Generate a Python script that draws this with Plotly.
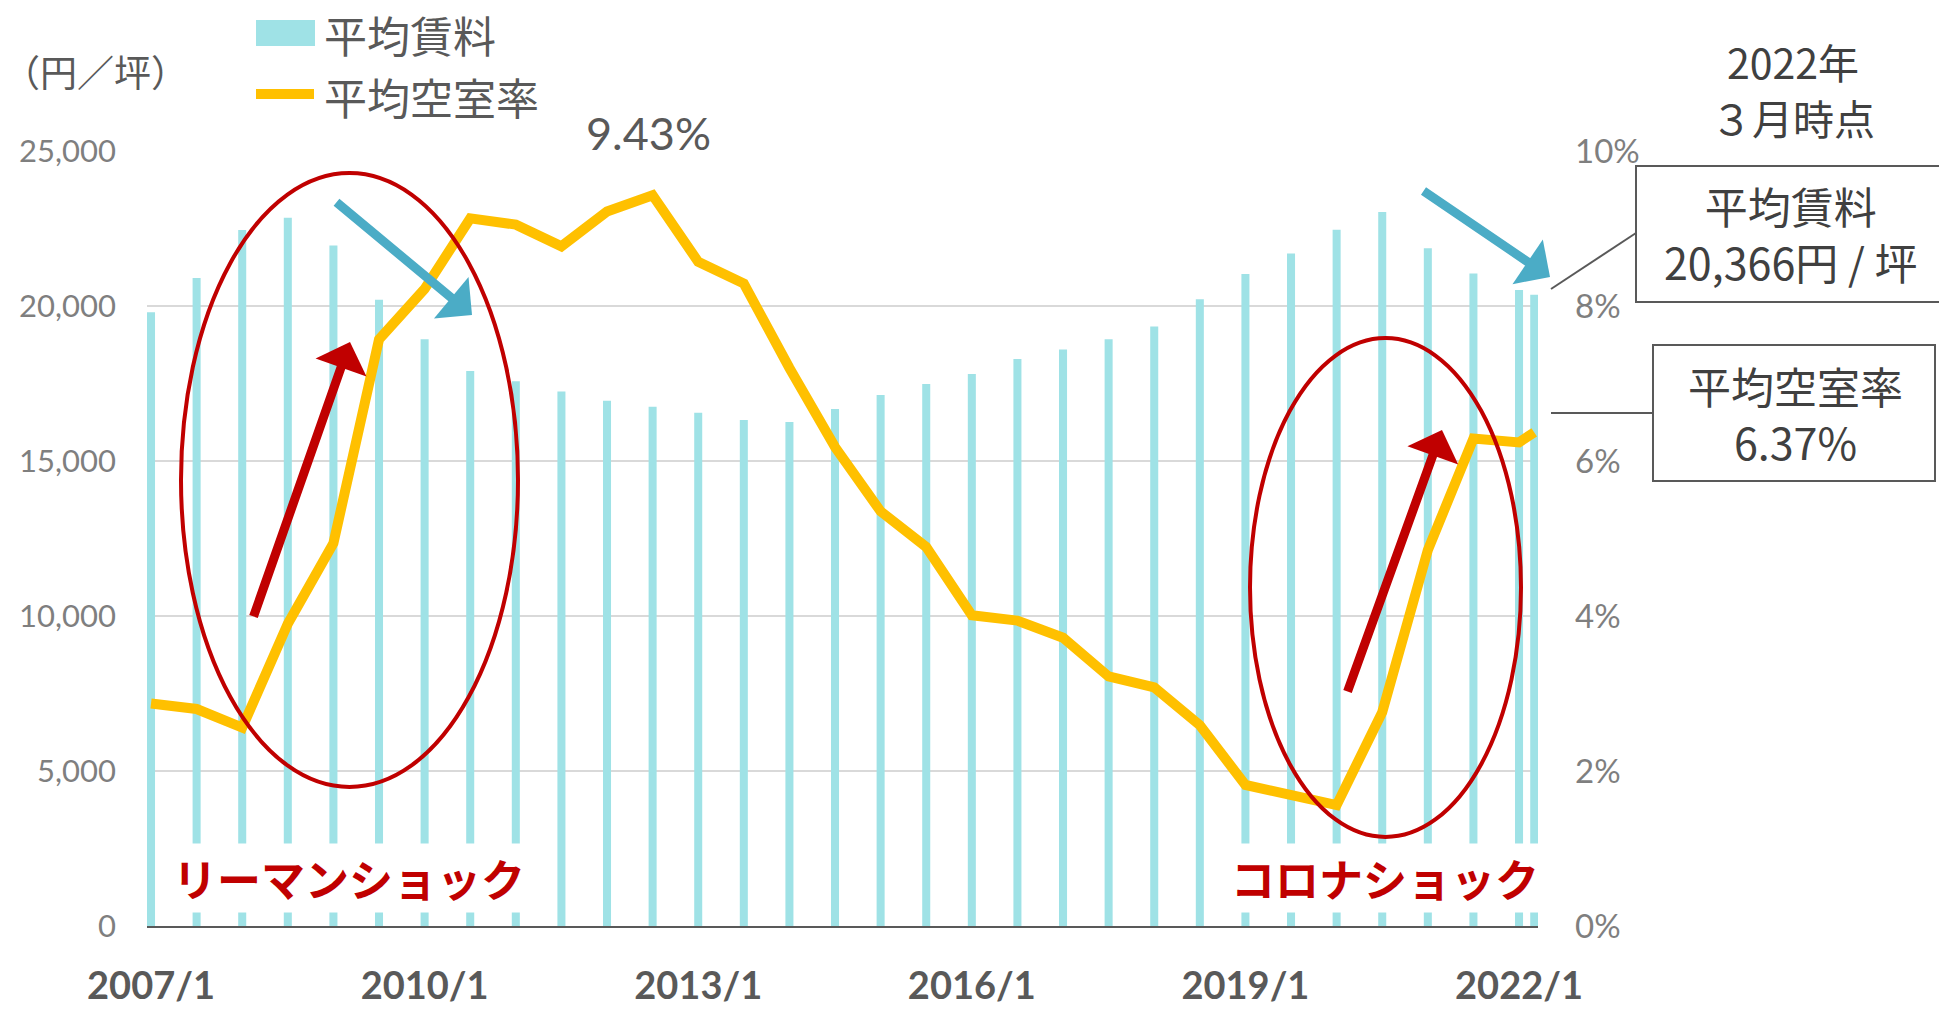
import plotly.graph_objects as go

# ---------------- data ----------------
periods = ["2007/1", "2007/7", "2008/1", "2008/7", "2009/1", "2009/7", "2010/1", "2010/7",
           "2011/1", "2011/7", "2012/1", "2012/7", "2013/1", "2013/7", "2014/1", "2014/7",
           "2015/1", "2015/7", "2016/1", "2016/7", "2017/1", "2017/7", "2018/1", "2018/7",
           "2019/1", "2019/7", "2020/1", "2020/7", "2021/1", "2021/7", "2022/1", "2022/3"]
rent = [19800, 20900, 22450, 22850, 21950, 20200, 18930, 17900,
        17570, 17240, 16940, 16750, 16560, 16320, 16260, 16680,
        17130, 17480, 17810, 18290, 18600, 18930, 19340, 20220,
        21030, 21690, 22460, 23030, 21860, 21050, 20520, 20366]
vacancy = [2.87, 2.80, 2.56, 3.90, 4.94, 7.57, 8.22, 9.13,
           9.05, 8.77, 9.22, 9.43, 8.57, 8.29, 7.20, 6.18,
           5.35, 4.89, 4.01, 3.94, 3.72, 3.22, 3.08, 2.59,
           1.82, 1.69, 1.56, 2.76, 4.85, 6.29, 6.24, 6.37]
tick_years = [2007, 2010, 2013, 2016, 2019, 2022]
tick_labels = ["2007/1", "2010/1", "2013/1", "2016/1", "2019/1", "2022/1"]
series_names = ["平均賃料", "平均空室率"]

# ---------------- layout constants ----------------
W, H = 1939, 1010
L, R, T, B = 147, 1538, 151, 926
X0, X1 = 2006.956, 2022.208

CJK = "Noto Sans CJK JP"
LAT = "Lato"
BAR_C = "#9FE2E6"
LINE_C = "#FFC000"
RED = "#C00000"
BLUE = "#4BACC6"


def px(x):
    return (x - L) / (R - L)


def py(y):
    return (B - y) / (B - T)


xnum = [int(p.split("/")[0]) + (int(p.split("/")[1]) - 1) / 12 for p in periods]

fig = go.Figure()
fig.add_trace(go.Bar(x=xnum, y=rent, name=series_names[0], width=0.088,
                     marker=dict(color=BAR_C, line=dict(width=0)), showlegend=False))
fig.add_trace(go.Scatter(x=xnum, y=vacancy, name=series_names[1], mode="lines",
                         line=dict(color=LINE_C, width=10), yaxis="y2", showlegend=False))

shapes = []
annotations = []

# legend (custom)
shapes.append(dict(type="rect", xref="paper", yref="paper", x0=px(256), x1=px(315),
                   y0=py(46), y1=py(20), fillcolor=BAR_C, line=dict(width=0)))
shapes.append(dict(type="line", xref="paper", yref="paper", x0=px(256), x1=px(314),
                   y0=py(94), y1=py(94), line=dict(color=LINE_C, width=10)))
annotations.append(dict(xref="paper", yref="paper", x=px(322), y=py(34), text=series_names[0],
                        showarrow=False, xanchor="left", yanchor="middle",
                        font=dict(family=CJK, size=43, color="#595959")))
annotations.append(dict(xref="paper", yref="paper", x=px(322), y=py(96), text=series_names[1],
                        showarrow=False, xanchor="left", yanchor="middle",
                        font=dict(family=CJK, size=43, color="#595959")))

# unit label
annotations.append(dict(xref="paper", yref="paper", x=px(1), y=py(71), text="（円／坪）",
                        showarrow=False, xanchor="left", yanchor="middle",
                        font=dict(family=CJK, size=37, color="#595959")))

# peak label
peak_i = vacancy.index(max(vacancy))
annotations.append(dict(xref="x", yref="paper", x=xnum[peak_i] - 0.04, y=py(133),
                        text=f"{max(vacancy):.2f}%", showarrow=False,
                        xanchor="center", yanchor="middle",
                        font=dict(family=LAT, size=45, color="#595959")))

# ellipses
shapes.append(dict(type="circle", xref="paper", yref="paper", x0=px(181), x1=px(518),
                   y0=py(787), y1=py(173), line=dict(color=RED, width=4)))
shapes.append(dict(type="circle", xref="paper", yref="paper", x0=px(1250), x1=px(1521),
                   y0=py(837), y1=py(338), line=dict(color=RED, width=4)))

# arrows
def arrow(tail, tip, color):
    annotations.append(dict(xref="paper", yref="paper", x=px(tip[0]), y=py(tip[1]),
                            ax=tail[0] - tip[0], ay=tail[1] - tip[1], text="",
                            showarrow=True, arrowhead=1, arrowsize=1, arrowwidth=9,
                            arrowcolor=color, standoff=0, startstandoff=0))

arrow((253, 618), (350, 342), RED)
arrow((335, 201), (472, 315), BLUE)
arrow((1347, 693), (1442, 430), RED)
arrow((1422, 190), (1550, 277), BLUE)

# event labels (white background cuts the bars)
annotations.append(dict(xref="paper", yref="paper", x=px(349), y=py(878), text="<b>リーマンショック</b>",
                        showarrow=False, xanchor="center", yanchor="middle", bgcolor="white",
                        borderpad=2, font=dict(family=CJK, size=44, color=RED)))
annotations.append(dict(xref="paper", yref="paper", x=px(1385), y=py(878), text="<b>コロナショック</b>",
                        showarrow=False, xanchor="center", yanchor="middle", bgcolor="white",
                        borderpad=2, font=dict(family=CJK, size=44, color=RED)))

# right-hand info
TXT = "#404040"
annotations.append(dict(xref="paper", yref="paper", x=px(1793), y=py(61), text="2022年",
                        showarrow=False, xanchor="center", yanchor="middle",
                        font=dict(family=CJK, size=41, color=TXT)))
annotations.append(dict(xref="paper", yref="paper", x=px(1793), y=py(117), text="３月時点",
                        showarrow=False, xanchor="center", yanchor="middle",
                        font=dict(family=CJK, size=41, color=TXT)))

shapes.append(dict(type="rect", xref="paper", yref="paper", x0=px(1636), x1=px(1950),
                   y0=py(302), y1=py(166), line=dict(color="#595959", width=2), fillcolor="white"))
shapes.append(dict(type="rect", xref="paper", yref="paper", x0=px(1653), x1=px(1935),
                   y0=py(481), y1=py(345), line=dict(color="#595959", width=2), fillcolor="white"))
shapes.append(dict(type="line", xref="paper", yref="paper", x0=px(1551), x1=px(1636),
                   y0=py(289), y1=py(233), line=dict(color="#595959", width=2)))
shapes.append(dict(type="line", xref="paper", yref="paper", x0=px(1551), x1=px(1653),
                   y0=py(413), y1=py(413), line=dict(color="#595959", width=2)))

annotations.append(dict(xref="paper", yref="paper", x=px(1790), y=py(233),
                        text=f"{series_names[0]}<br>{rent[-1]:,}円 / 坪",
                        showarrow=False, xanchor="center", yanchor="middle",
                        font=dict(family=CJK, size=43, color=TXT)))
annotations.append(dict(xref="paper", yref="paper", x=px(1795), y=py(413),
                        text=f"{series_names[1]}<br>{vacancy[-1]:.2f}%",
                        showarrow=False, xanchor="center", yanchor="middle",
                        font=dict(family=CJK, size=43, color=TXT)))

fig.update_layout(
    width=W, height=H,
    margin=dict(l=L, r=W - R, t=T, b=H - B, pad=0, autoexpand=False),
    paper_bgcolor="white", plot_bgcolor="white",
    showlegend=False,
    xaxis=dict(range=[X0, X1], tickmode="array", tickvals=tick_years, ticktext=tick_labels,
               showgrid=False, zeroline=False, showline=True, linecolor="#595959", linewidth=2,
               ticks="", ticklabelstandoff=25, automargin=False,
               tickfont=dict(family=LAT, size=38, color="#595959", weight="bold")),
    yaxis=dict(range=[0, 25000], dtick=5000, tickformat=",", showgrid=True,
               gridcolor="#D9D9D9", gridwidth=2, zeroline=False, showline=False, ticks="",
               ticklabelstandoff=30, automargin=False,
               tickfont=dict(family=LAT, size=31, color="#7F7F7F")),
    yaxis2=dict(range=[0, 10], dtick=2, ticksuffix="%", overlaying="y", side="right",
                showgrid=False, zeroline=False, showline=False, ticks="", automargin=False,
                ticklabelstandoff=36, tickfont=dict(family=LAT, size=33, color="#7F7F7F")),
    shapes=shapes,
    annotations=annotations,
)

fig.write_html("out.html", config={"displayModeBar": False},
               post_script="document.body.style.margin='0';")
